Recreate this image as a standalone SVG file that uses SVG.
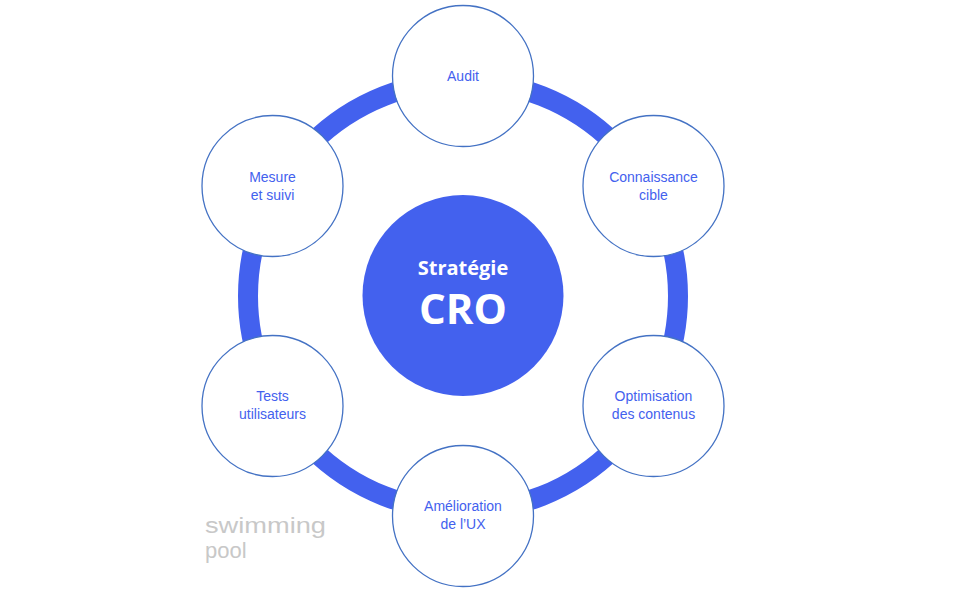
<svg xmlns="http://www.w3.org/2000/svg" width="954" height="594" viewBox="0 0 954 594">
<style>
.node circle{fill:#fff;stroke:#4472C4;stroke-width:1.3}
.lbl{font-family:"Liberation Sans","Noto Sans",Arial,sans-serif;font-size:14px;fill:#4361EE;text-anchor:middle}
.ctr{font-family:"Open Sans","Liberation Sans",Arial,sans-serif;font-weight:bold;fill:#fff;text-anchor:middle}
.logo{font-family:"Liberation Sans",Arial,sans-serif;font-size:22px;fill:#c8c8c8}
</style>
<rect width="954" height="594" fill="#fff"/>
<g id="connectors">
<circle cx="463" cy="296" r="215" fill="none" stroke="#4361EE" stroke-width="20"/>
</g>
<g id="center">
<circle cx="463" cy="295.5" r="100.5" fill="#4361EE"/>
<text class="ctr" x="463" y="275" font-size="20">Stratégie</text>
<text class="ctr" x="463" y="324" font-size="42">CRO</text>
</g>
<g id="audit" class="node">
<circle cx="463" cy="76" r="70.5"/>
<text class="lbl" x="463" y="81">Audit</text>
</g>
<g id="connaissance" class="node">
<circle cx="653.5" cy="186" r="70.5"/>
<text class="lbl" x="653.5" y="182">Connaissance</text>
<text class="lbl" x="653.5" y="200">cible</text>
</g>
<g id="optimisation" class="node">
<circle cx="653.5" cy="406" r="70.5"/>
<text class="lbl" x="653.5" y="401">Optimisation</text>
<text class="lbl" x="653.5" y="419">des contenus</text>
</g>
<g id="amelioration" class="node">
<circle cx="463" cy="516" r="70.5"/>
<text class="lbl" x="463" y="511">Amélioration</text>
<text class="lbl" x="463" y="529">de l’UX</text>
</g>
<g id="tests" class="node">
<circle cx="272.5" cy="406" r="70.5"/>
<text class="lbl" x="272.5" y="401">Tests</text>
<text class="lbl" x="272.5" y="419">utilisateurs</text>
</g>
<g id="mesure" class="node">
<circle cx="272.5" cy="186" r="70.5"/>
<text class="lbl" x="272.5" y="182">Mesure</text>
<text class="lbl" x="272.5" y="200">et suivi</text>
</g>
<g id="logo">
<text class="logo" x="205" y="533" textLength="121" lengthAdjust="spacingAndGlyphs">swimming</text>
<text class="logo" x="205" y="558">pool</text>
</g>
</svg>
